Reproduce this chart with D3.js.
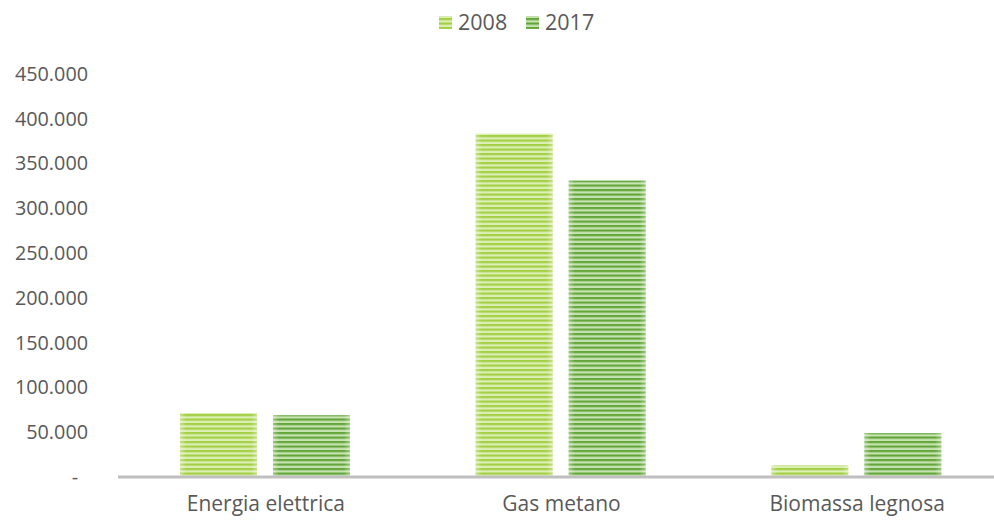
<!DOCTYPE html>
<html>
<head>
<meta charset="utf-8">
<script src="https://cdn.jsdelivr.net/npm/d3@7"></script>
<style>
html,body{margin:0;padding:0;background:#fff;}
text{font-family:"Open Sans",sans-serif;}
</style>
</head>
<body>
<svg id="chart" width="994" height="520"></svg>
<script>
const categories = ["Energia elettrica", "Gas metano", "Biomassa legnosa"];
const seriesNames = ["2008", "2017"];
const values2008 = [71500, 383500, 13000];
const values2017 = [69000, 331000, 49000];
const yTicks = [0, 50000, 100000, 150000, 200000, 250000, 300000, 350000, 400000, 450000];

const svg = d3.select("#chart");
const W = 994, H = 520;
const m = {left: 118, right: -11, top: 74, bottom: 43};
const x0 = d3.scaleBand().domain(categories).range([m.left, W - m.right]).paddingInner(0).paddingOuter(0);
const x1 = d3.scaleBand().domain(seriesNames).range([62, 232]).paddingInner(0.172).paddingOuter(0);
const y = d3.scaleLinear().domain([0, 450000]).range([H - m.bottom, m.top]);

const defs = svg.append("defs");
const colors = {"2008": {base: "#a3cf45", light: "#dcefb4"}, "2017": {base: "#62a63a", light: "#c8e3b2"}};
seriesNames.forEach(s => {
  const p = defs.append("pattern").attr("id", "pat" + s).attr("patternUnits", "userSpaceOnUse")
    .attr("width", 8).attr("height", 4.5);
  p.append("rect").attr("width", 8).attr("height", 4.5).attr("fill", colors[s].light);
  p.append("rect").attr("y", 0).attr("width", 8).attr("height", 2.2).attr("fill", colors[s].base);
});
const g = defs.append("linearGradient").attr("id", "edge").attr("x1", 0).attr("x2", 1).attr("y1", 0).attr("y2", 0);
g.append("stop").attr("offset", "0%").attr("stop-color", "#fff").attr("stop-opacity", 0.35);
g.append("stop").attr("offset", "8%").attr("stop-color", "#fff").attr("stop-opacity", 0);
g.append("stop").attr("offset", "92%").attr("stop-color", "#fff").attr("stop-opacity", 0);
g.append("stop").attr("offset", "100%").attr("stop-color", "#fff").attr("stop-opacity", 0.35);

// y axis labels
const fmt = v => v === 0 ? "-" : d3.format(",")(v).replace(/,/g, ".");
const yAxis = d3.axisLeft(y).tickValues(yTicks).tickFormat(fmt).tickSize(0).tickPadding(0);
const ya = svg.append("g").attr("transform", "translate(88,0)").call(yAxis);
ya.select(".domain").remove();
ya.selectAll("text").attr("font-size", 19.8).attr("fill", "#595959").attr("font-family", "Open Sans");
ya.selectAll(".tick").filter(d => d === 0).select("text").attr("transform", "translate(-10,0)");

// bars
const data = categories.map((c, i) => ({cat: c, vals: [{s: "2008", v: values2008[i]}, {s: "2017", v: values2017[i]}]}));
const groups = svg.append("g").selectAll("g").data(data).join("g")
  .attr("transform", d => `translate(${x0(d.cat)},0)`);
groups.selectAll("rect.bar").data(d => d.vals).join("rect").attr("class", "bar")
  .attr("x", d => x1(d.s)).attr("width", x1.bandwidth())
  .attr("y", d => y(d.v)).attr("height", d => y(0) - y(d.v))
  .attr("fill", d => `url(#pat${d.s})`);
groups.selectAll("rect.edge").data(d => d.vals).join("rect").attr("class", "edge")
  .attr("x", d => x1(d.s)).attr("width", x1.bandwidth())
  .attr("y", d => y(d.v)).attr("height", d => y(0) - y(d.v))
  .attr("fill", "url(#edge)");

// baseline
svg.append("line").attr("x1", m.left).attr("x2", 994).attr("y1", y(0)).attr("y2", y(0))
  .attr("stroke", "#bfbfbf").attr("stroke-width", 3);

// x axis labels
const xAxis = d3.axisBottom(x0).tickSize(0).tickPadding(0);
const xa = svg.append("g").attr("transform", `translate(0,${y(0) + 19})`).call(xAxis);
xa.select(".domain").remove();
xa.selectAll("text").attr("font-size", 21).attr("fill", "#595959").attr("font-family", "Open Sans").attr("dy", "0.71em");

// legend
const leg = svg.append("g");
const legX = [439, 526];
seriesNames.forEach((s, i) => {
  leg.append("rect").attr("x", legX[i]).attr("y", 16).attr("width", 13).attr("height", 13).attr("fill", `url(#pat${s})`);
  leg.append("text").attr("x", legX[i] + 19).attr("y", 22).attr("dy", "0.35em")
    .attr("font-size", 21.5).attr("fill", "#595959").text(s);
});
</script>
</body>
</html>
